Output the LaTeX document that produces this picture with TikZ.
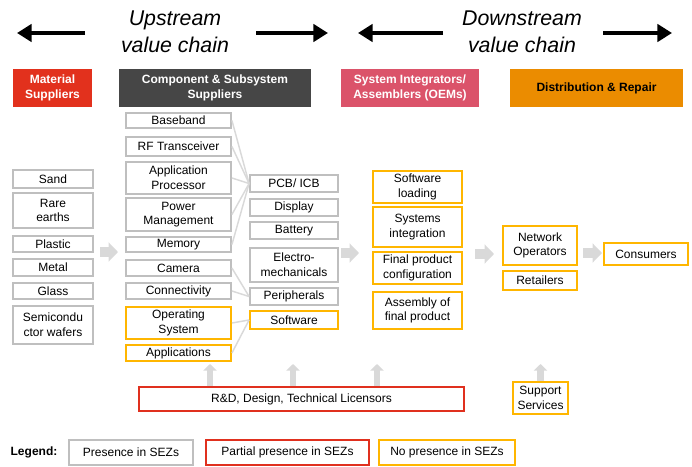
\documentclass[tikz,border=0pt]{standalone}
\usepackage{fontspec}
\setmainfont{Liberation Sans}
\usetikzlibrary{arrows.meta}
\definecolor{matred}{HTML}{E2311D}
\definecolor{compgray}{HTML}{464646}
\definecolor{oempink}{HTML}{DB536A}
\definecolor{distorange}{HTML}{EB8C00}
\definecolor{boxgray}{HTML}{BFBFBF}
\definecolor{boxorange}{HTML}{FFB600}
\definecolor{boxred}{HTML}{E0301E}
\definecolor{arrowgray}{HTML}{D9D9D9}

\begin{document}
\begin{tikzpicture}[x=0.75pt, y=-0.75pt,
    every node/.style={font=\fontsize{9}{11}\selectfont, align=center, inner sep=0pt},
    wh/.style 2 args={minimum width=#1*0.75pt, minimum height=#2*0.75pt},
    box/.style={draw=boxgray, line width=1.4pt, fill=white},
    opt/.style={box, draw=boxorange},
    part/.style={box, draw=boxred},
    hdr/.style={font=\fontsize{9}{11}\selectfont\bfseries, text=white},
    link/.style={draw=arrowgray, line width=1.1pt},
    flow/.style={draw=arrowgray, line width=7pt, -{Triangle[length=7pt, width=14pt]}},
    rise/.style={draw=arrowgray, line width=5pt, -{Triangle[length=5pt, width=10pt]}},
    bigarrow/.style={line width=3pt, -{Triangle[length=11pt, width=13pt]}}
  ]
    \useasboundingbox (0,0) rectangle (692,467);

    \node[font=\fontsize{16}{20}\selectfont\itshape] (upstream) at (175,32) {Upstream\\value chain};
    \node[font=\fontsize{16}{20}\selectfont\itshape] (downstream) at (522,32) {Downstream\\value chain};
    \coordinate (upA) at (85,33);   \coordinate (upB) at (17,33);
    \coordinate (upC) at (256,33);  \coordinate (upD) at (328,33);
    \coordinate (dnA) at (443,33);  \coordinate (dnB) at (358,33);
    \coordinate (dnC) at (603,33);  \coordinate (dnD) at (672,33);
    \draw[bigarrow] (upA) -- (upB);
    \draw[bigarrow] (upC) -- (upD);
    \draw[bigarrow] (dnA) -- (dnB);
    \draw[bigarrow] (dnC) -- (dnD);

    \node[hdr, fill=matred, wh={79}{38}] (matH) at (52.5,88) {Material\\Suppliers};
    \node[hdr, fill=compgray, wh={192}{38}] (compH) at (215,88) {Component \& Subsystem\\Suppliers};
    \node[hdr, fill=oempink, wh={138}{38}] (oemH) at (410,88) {System Integrators/\\Assemblers (OEMs)};
    \node[hdr, fill=distorange, text=black, wh={173}{38}] (distH) at (596.5,88) {Distribution \& Repair};

    \node[box, wh={80}{18}] (sand) at (53,179) {Sand};
    \node[box, wh={80}{35}] (rare) at (53,210.5) {Rare\\earths};
    \node[box, wh={80}{16}] (plastic) at (53,244) {Plastic};
    \node[box, wh={80}{17}] (metal) at (53,267.5) {Metal};
    \node[box, wh={80}{16}] (glass) at (53,291) {Glass};
    \node[box, wh={80}{38}] (wafers) at (53,325) {Semicondu\\ctor wafers};

    \node[box, wh={105}{15}] (baseband) at (178.5,120.5) {Baseband};
    \node[box, wh={105}{19}] (rf) at (178.5,146.5) {RF Transceiver};
    \node[box, wh={105}{32}] (ap) at (178.5,178) {Application\\Processor};
    \node[box, wh={105}{33}] (pm) at (178.5,214.5) {Power\\Management};
    \node[box, wh={105}{15}] (memory) at (178.5,244.5) {Memory};
    \node[box, wh={105}{16}] (camera) at (178.5,268) {Camera};
    \node[box, wh={105}{16}] (conn) at (178.5,291) {Connectivity};
    \node[opt, wh={105}{32}] (os) at (178.5,323) {Operating\\System};
    \node[opt, wh={105}{16}] (apps) at (178.5,353) {Applications};

    \node[box, wh={88}{17}] (pcb) at (294,183.5) {PCB/ ICB};
    \node[box, wh={88}{17}] (display) at (294,207.5) {Display};
    \node[box, wh={88}{17}] (battery) at (294,230.5) {Battery};
    \node[box, wh={88}{34}] (electro) at (294,265) {Electro-\\mechanicals};
    \node[box, wh={88}{17}] (periph) at (294,296.5) {Peripherals};
    \node[opt, wh={88}{18}] (software) at (294,320) {Software};

    \foreach \n in {baseband, rf, ap, pm, memory}
      \draw[link] (\n.east) -- (pcb.west);
    \foreach \n in {camera, conn}
      \draw[link] (\n.east) -- (periph.west);
    \foreach \n in {os, apps}
      \draw[link] (\n.east) -- (software.west);

    \node[opt, wh={89}{32}] (swload) at (417.5,187) {Software\\loading};
    \node[opt, wh={89}{40}] (sysint) at (417.5,227) {Systems\\integration};
    \node[opt, wh={89}{32}] (fpc) at (417.5,268) {Final product\\configuration};
    \node[opt, wh={89}{37}] (assembly) at (417.5,310.5) {Assembly of\\final product};

    \node[opt, wh={74}{39}] (network) at (540,245.5) {Network\\Operators};
    \node[opt, wh={74}{19}] (retail) at (540,280.5) {Retailers};
    \node[opt, wh={84}{22}] (consumers) at (646,254) {Consumers};

    \coordinate (f1a) at (100,252);  \coordinate (f1b) at (118,252);
    \coordinate (f2a) at (341,253);  \coordinate (f2b) at (359,253);
    \coordinate (f3a) at (475,254);  \coordinate (f3b) at (494,254);
    \coordinate (f4a) at (583,253);  \coordinate (f4b) at (602,253);
    \draw[flow] (f1a) -- (f1b);
    \draw[flow] (f2a) -- (f2b);
    \draw[flow] (f3a) -- (f3b);
    \draw[flow] (f4a) -- (f4b);

    \node[part, wh={325}{24}] (rd) at (301.5,399) {R\&D, Design, Technical Licensors};
    \node[opt, wh={55}{32}] (support) at (540.5,398) {Support\\Services};
    \coordinate (u1) at (210,364);
    \coordinate (u2) at (293,364);
    \coordinate (u3) at (377,364);
    \coordinate (u4) at (540.5,364);
    \foreach \u in {u1, u2, u3}
      \draw[rise] (rd.north -| \u) -- (\u);
    \draw[rise] (support.north) -- (u4);

    \node[font=\fontsize{9}{11}\selectfont\bfseries] (legend) at (34,452) {Legend:};
    \node[box, wh={124}{25}] (lgPres) at (131,452.5) {Presence in SEZs};
    \node[part, wh={163}{25}] (lgPart) at (287.5,452.5) {Partial presence in SEZs};
    \node[opt, wh={136}{25}] (lgNone) at (447,452.5) {No presence in SEZs};

  \end{tikzpicture}
\end{document}
